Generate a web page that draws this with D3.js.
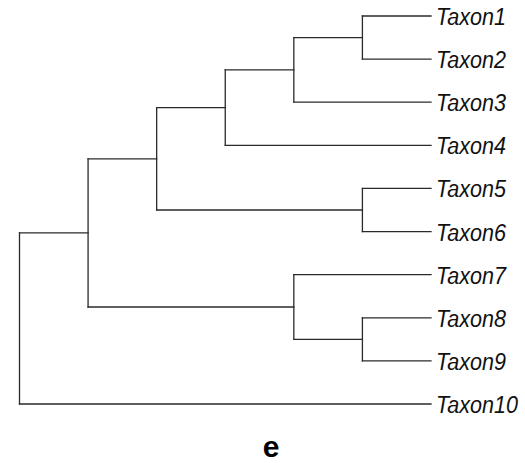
<!DOCTYPE html>
<html>
<head>
<meta charset="utf-8">
<script src="https://cdn.jsdelivr.net/npm/d3@7"></script>
<style>
  html, body { margin: 0; padding: 0; background: #fff; }
  svg { display: block; }
</style>
</head>
<body>
<svg id="chart" width="525" height="463"></svg>
<script>
// Tree topology in preorder (node ids and their parents)
const nodeIds = ["root","n1","n2","n3","n4","n5","Taxon1","Taxon2","Taxon3","Taxon4",
  "n6","Taxon5","Taxon6","n7","Taxon7","n8","Taxon8","Taxon9","Taxon10"];
const parentIds = ["","root","n1","n2","n3","n4","n5","n5","n4","n3",
  "n2","n6","n6","n1","n7","n7","n8","n8","root"];
const panelLabel = "e";

const svg = d3.select("#chart");
const table = nodeIds.map((id, i) => ({ id: id, parent: parentIds[i] || null }));
const root = d3.stratify().id(d => d.id).parentId(d => d.parent)(table);

const leaves = root.leaves();
const y = d3.scalePoint().domain(leaves.map(d => d.id)).range([16, 404]);
const x = d3.scaleLinear().domain([root.height, 0]).range([19.5, 431]);

// assign y positions: leaves via scale, internal nodes midpoint of children
root.eachAfter(n => {
  if (!n.children) n.py = y(n.id);
  else n.py = (n.children[0].py + n.children[n.children.length - 1].py) / 2;
  n.px = x(n.height);
});

const g = svg.append("g").attr("stroke", "#2a2a2a").attr("stroke-width", 1.3)
  .attr("fill", "none").attr("stroke-linecap", "square");

// vertical connectors
g.selectAll("line.v").data(root.descendants().filter(d => d.children)).join("line")
  .attr("class", "v")
  .attr("x1", d => d.px).attr("x2", d => d.px)
  .attr("y1", d => d.children[0].py)
  .attr("y2", d => d.children[d.children.length - 1].py);

// horizontal branches
g.selectAll("line.h").data(root.descendants().filter(d => d.parent)).join("line")
  .attr("class", "h")
  .attr("x1", d => d.parent.px).attr("x2", d => d.px)
  .attr("y1", d => d.py).attr("y2", d => d.py);

// tip labels
svg.selectAll("text.tip").data(leaves).join("text")
  .attr("class", "tip")
  .attr("transform", d => `translate(${d.px + 5},${d.py + 9}) scale(0.88,1)`)
  .attr("font-family", "Liberation Sans, Arial, sans-serif")
  .attr("font-style", "italic")
  .attr("font-size", 24.5)
  .attr("fill", "#111")
  .text(d => d.id);

// panel label
svg.append("text")
  .attr("x", 271).attr("y", 457)
  .attr("text-anchor", "middle")
  .attr("font-family", "Liberation Sans, Arial, sans-serif")
  .attr("font-weight", "bold")
  .attr("font-size", 30)
  .attr("fill", "#000")
  .text(panelLabel);
</script>
</body>
</html>
